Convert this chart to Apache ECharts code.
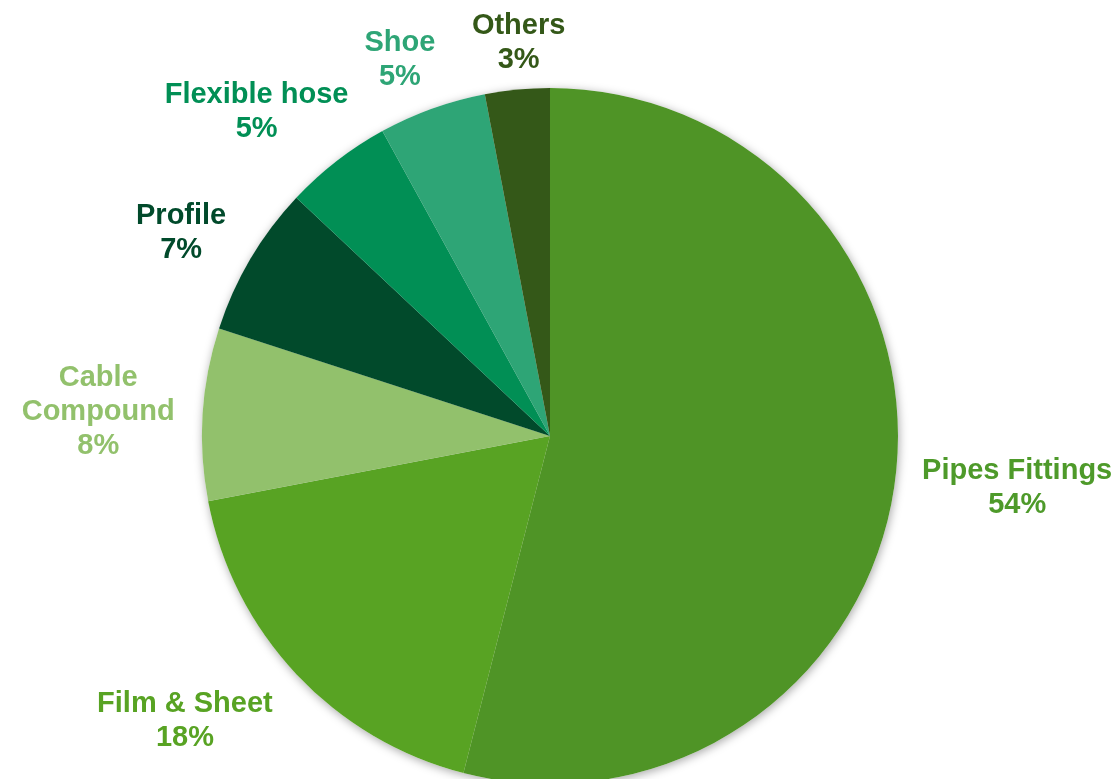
<!DOCTYPE html>
<html>
<head>
<meta charset="utf-8">
<script src="https://cdn.jsdelivr.net/npm/echarts@6/dist/echarts.min.js"></script>
<style>
html,body{margin:0;padding:0;background:#fff;}
#chart{width:1120px;height:779px;}
</style>
</head>
<body>
<div id="chart"></div>
<script>
const categories = ['Pipes Fittings', 'Film & Sheet', 'Cable\nCompound', 'Profile', 'Flexible hose', 'Shoe', 'Others'];
const values = [54, 18, 8, 7, 5, 5, 3];
const colors = ['#4F9426', '#58A323', '#92C16C', '#014A2B', '#018F55', '#2EA576', '#345818'];
const labelColors = ['#4E9A2A', '#58A323', '#92C16C', '#014A2B', '#018F55', '#2EA576', '#345818'];

// label nudges (pixels) relative to ECharts' outside placement
const labelNudge = [[2, 6], [-4, 33], [-3, -1], [-2, -16], [29, -33], [15, -30], [55, -27]];

const FONT = "'Liberation Sans', Arial, Helvetica, sans-serif";
const chart = echarts.init(document.getElementById('chart'), null, {renderer: 'canvas'});

function richLabel(name, pct) {
  return name.split('\n').map(s => '{a|' + s + '}').join('\n') + '\n{a|' + pct + '%}';
}

const data = categories.map((c, i) => ({
  name: c,
  value: values[i],
  itemStyle: {color: colors[i]},
  label: {color: labelColors[i], rich: {a: {color: labelColors[i], align: 'center', fontFamily: FONT, fontWeight: 'bold', fontSize: 29, lineHeight: 34}}}
}));

chart.setOption({
  animation: false,
  series: [
    {
      type: 'pie',
      silent: true,
      center: [550, 436],
      radius: [0, 348],
      startAngle: 90,
      clockwise: true,
      z: 1,
      label: {show: false},
      labelLine: {show: false},
      itemStyle: {color: '#ffffff', shadowBlur: 10, shadowColor: 'rgba(0,0,0,0.35)', shadowOffsetX: 1, shadowOffsetY: 2},
      data: values.map((v, i) => ({name: categories[i], value: v}))
    },
    {
      type: 'pie',
      center: [550, 436],
      radius: [0, 348],
      startAngle: 90,
      clockwise: true,
      z: 2,
      avoidLabelOverlap: false,
      minShowLabelAngle: 0,
      itemStyle: {borderWidth: 0},
      label: {
        show: true,
        position: 'outside',
        fontFamily: FONT,
        fontWeight: 'bold',
        fontSize: 29,
        lineHeight: 34,
        formatter: p => richLabel(p.name, p.value)
      },
      labelLine: {show: false, length: 20, length2: 0},
      labelLayout: p => ({dx: labelNudge[p.dataIndex][0], dy: labelNudge[p.dataIndex][1], hideOverlap: false, moveOverlap: false}),
      emphasis: {disabled: true},
      data: data
    }
  ]
});
</script>
</body>
</html>
